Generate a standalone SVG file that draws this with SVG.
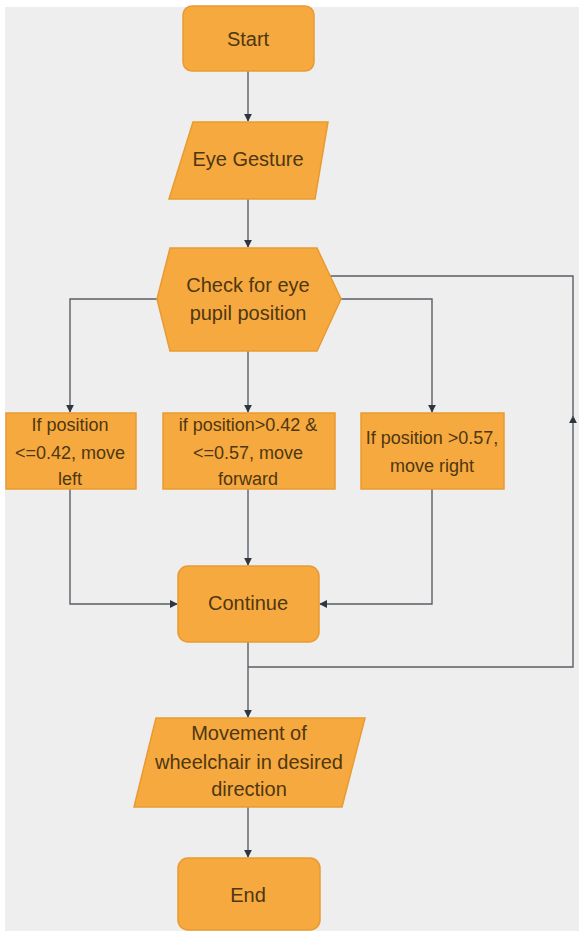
<svg xmlns="http://www.w3.org/2000/svg" width="579" height="931" viewBox="0 0 579 931">
<defs>
<marker id="arr" viewBox="0 0 10 10" refX="9" refY="5" markerWidth="8" markerHeight="8" markerUnits="userSpaceOnUse" orient="auto">
<path d="M0,0 L10,5 L0,10 z" fill="#2f3640"/>
</marker>
<style>
.bg{fill:#eeeeee}
.shape{fill:#f6a93e;stroke:#e99a30;stroke-width:1.5}
.t{font-family:"Liberation Sans",Arial,sans-serif;fill:#4e3712;text-anchor:middle;dominant-baseline:central}
.big{font-size:20px}
.sm{font-size:18px}
.ln{fill:none;stroke:#5a5f66;stroke-width:1.4}
</style>
</defs>
<rect x="0" y="0" width="579" height="931" fill="#ffffff"/>
<rect class="bg" x="5" y="7" width="574" height="924"/>

<g id="connectors">
<path class="ln" d="M248,71 V121" marker-end="url(#arr)"/>
<path class="ln" d="M248,199 V247" marker-end="url(#arr)"/>
<path class="ln" d="M157,299 H70 V412" marker-end="url(#arr)"/>
<path class="ln" d="M248,351 V412" marker-end="url(#arr)"/>
<path class="ln" d="M340,299 H432 V412" marker-end="url(#arr)"/>
<path class="ln" d="M70,489 V604 H177" marker-end="url(#arr)"/>
<path class="ln" d="M248,489 V565" marker-end="url(#arr)"/>
<path class="ln" d="M432,489 V604 H320" marker-end="url(#arr)"/>
<path class="ln" d="M248,642 V717" marker-end="url(#arr)"/>
<path class="ln" d="M248,667 H573 V416" marker-end="url(#arr)"/>
<path class="ln" d="M573,418 V276 H330"/>
<path class="ln" d="M248,807 V857" marker-end="url(#arr)"/>
</g>

<g id="start">
<rect class="shape" x="183" y="6" width="131" height="65" rx="9"/>
<text class="t big" x="248" y="39">Start</text>
</g>

<g id="eye-gesture">
<polygon class="shape" points="193,122 328,122 315,199 169,199"/>
<text class="t big" x="248" y="159">Eye Gesture</text>
</g>

<g id="check">
<polygon class="shape" points="170,248 317,248 341,299 317,351 170,351 157,299"/>
<text class="t big" x="248" y="285">Check for eye</text>
<text class="t big" x="248" y="313">pupil position</text>
</g>

<g id="left">
<rect class="shape" x="6" y="413" width="130" height="76"/>
<text class="t sm" x="70" y="425">If position</text>
<text class="t sm" x="70" y="453">&lt;=0.42, move</text>
<text class="t sm" x="70" y="479">left</text>
</g>

<g id="forward">
<rect class="shape" x="163" y="413" width="172" height="76"/>
<text class="t sm" x="248" y="425">if position&gt;0.42 &amp;</text>
<text class="t sm" x="248" y="453">&lt;=0.57, move</text>
<text class="t sm" x="248" y="479">forward</text>
</g>

<g id="right">
<rect class="shape" x="361" y="413" width="143" height="76"/>
<text class="t sm" x="432" y="438">If position &gt;0.57,</text>
<text class="t sm" x="432" y="466">move right</text>
</g>

<g id="continue">
<rect class="shape" x="178" y="566" width="141" height="76" rx="10"/>
<text class="t big" x="248" y="603">Continue</text>
</g>

<g id="movement">
<polygon class="shape" points="156,718 365,718 342,807 134,807"/>
<text class="t big" x="249" y="733">Movement of</text>
<text class="t big" x="249" y="762">wheelchair in desired</text>
<text class="t big" x="249" y="789">direction</text>
</g>

<g id="end">
<rect class="shape" x="178" y="858" width="142" height="72" rx="10"/>
<text class="t big" x="248" y="895">End</text>
</g>
</svg>
